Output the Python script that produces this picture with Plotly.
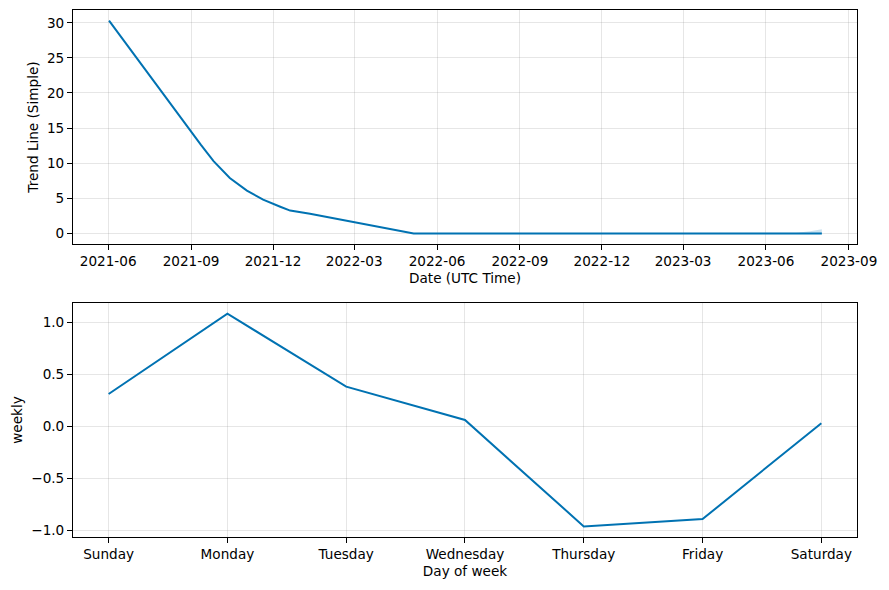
import plotly.graph_objects as go

# ---- Data ----
trend_dates = ["2021-06-02", "2021-08-30", "2021-09-12", "2021-09-26", "2021-10-14",
               "2021-11-02", "2021-11-20", "2021-12-09", "2021-12-20", "2022-01-11",
               "2022-02-28", "2022-05-06", "2022-09-01", "2023-01-01", "2023-06-20",
               "2023-07-05", "2023-07-20", "2023-08-02"]
trend_values = [30.3, 14.8, 12.6, 10.3, 7.9,
                6.1, 4.8, 3.8, 3.25, 2.8,
                1.65, 0.0, 0.0, 0.0, 0.0,
                0.0, 0.0, 0.0]
trend_upper = [30.3, 14.8, 12.6, 10.3, 7.9,
               6.1, 4.8, 3.8, 3.25, 2.8,
               1.65, 0.0, 0.0, 0.0, 0.0,
               0.1, 0.3, 0.6]
trend_lower = trend_values

days = ["Sunday", "Monday", "Tuesday", "Wednesday", "Thursday", "Friday", "Saturday"]
weekly_values = [0.31, 1.08, 0.38, 0.06, -0.96, -0.89, 0.03]

date_ticks = ["2021-06-01", "2021-09-01", "2021-12-01", "2022-03-01", "2022-06-01",
              "2022-09-01", "2022-12-01", "2023-03-01", "2023-06-01", "2023-09-01"]
date_ticktext = ["2021-06", "2021-09", "2021-12", "2022-03", "2022-06",
                 "2022-09", "2022-12", "2023-03", "2023-06", "2023-09"]
trend_yticks = [0, 5, 10, 15, 20, 25, 30]
weekly_yticks = [-1.0, -0.5, 0.0, 0.5, 1.0]

LINE = "#0072B2"
FONT = "DejaVu Sans"
FS = 13.6
GRID = "rgba(128,128,128,0.2)"

fig = go.Figure()

# uncertainty band
fig.add_trace(go.Scatter(x=trend_dates, y=trend_lower, mode="lines",
                         line=dict(width=0), showlegend=False, hoverinfo="skip",
                         xaxis="x", yaxis="y"))
fig.add_trace(go.Scatter(x=trend_dates, y=trend_upper, mode="lines",
                         line=dict(width=0), fill="tonexty",
                         fillcolor="rgba(0,114,178,0.2)", showlegend=False,
                         hoverinfo="skip", xaxis="x", yaxis="y"))
fig.add_trace(go.Scatter(x=trend_dates, y=trend_values, mode="lines",
                         line=dict(color=LINE, width=2), showlegend=False,
                         xaxis="x", yaxis="y"))

fig.add_trace(go.Scatter(x=list(range(len(days))), y=weekly_values, mode="lines",
                         line=dict(color=LINE, width=2), showlegend=False,
                         xaxis="x2", yaxis="y2"))

axis_common = dict(showline=True, linecolor="black", linewidth=1, mirror=True,
                   ticks="outside", ticklen=5, tickcolor="black", tickwidth=1,
                   showgrid=True, gridcolor=GRID, gridwidth=1, zeroline=False,
                   automargin=False,
                   tickfont=dict(family=FONT, size=FS, color="black"))

fig.update_layout(
    width=889, height=590, autosize=False,
    margin=dict(l=0, r=0, t=0, b=0, pad=0),
    paper_bgcolor="white", plot_bgcolor="white",
    font=dict(family=FONT, size=FS, color="black"),
    xaxis=dict(domain=[0.0821, 0.964], anchor="y", type="date",
               range=["2021-04-23", "2023-09-10"],
               tickvals=date_ticks, ticktext=date_ticktext,
               title=dict(text="Date (UTC Time)", standoff=5,
                          font=dict(family=FONT, size=FS)),
               **axis_common),
    yaxis=dict(domain=[0.5864, 0.983], anchor="x",
               range=[-1.515, 31.815], tickvals=trend_yticks,
               title=dict(text="Trend Line (Simple)", standoff=5,
                          font=dict(family=FONT, size=FS)),
               **axis_common),
    xaxis2=dict(domain=[0.0821, 0.964], anchor="y2",
                range=[-0.3, 6.3], tickvals=list(range(len(days))), ticktext=days,
                title=dict(text="Day of week", standoff=5,
                           font=dict(family=FONT, size=FS)),
                **axis_common),
    yaxis2=dict(domain=[0.0898, 0.4864], anchor="x2",
                range=[-1.062, 1.182], tickvals=weekly_yticks, tickformat=".1f",
                title=dict(text="weekly", standoff=5,
                           font=dict(family=FONT, size=FS)),
                **axis_common),
)

fig.write_html("out.html")

# remove default page margins so the 889x590 figure fits the window exactly
with open("out.html", "r", encoding="utf-8") as f:
    html = f.read()
html = html.replace("<body>", '<body style="margin:0;padding:0;overflow:hidden">', 1)
with open("out.html", "w", encoding="utf-8") as f:
    f.write(html)
